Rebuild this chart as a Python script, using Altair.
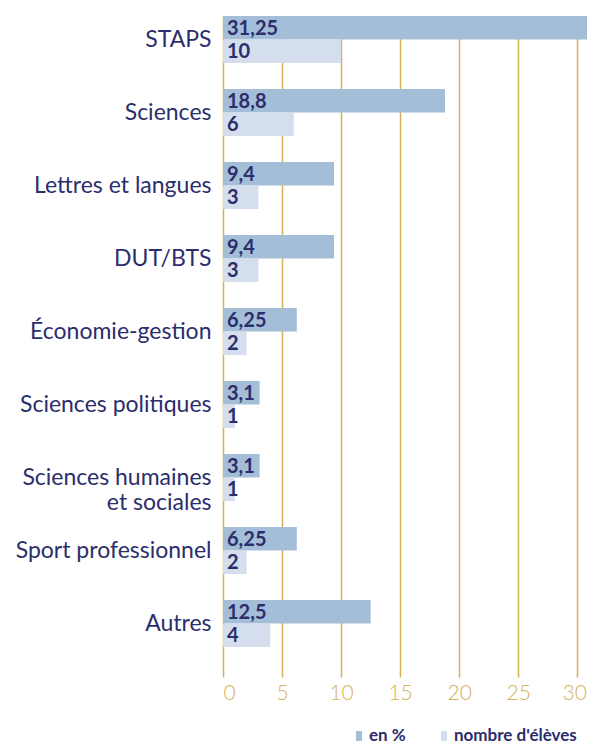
import altair as alt
import pandas as pd

categories = ["STAPS", "Sciences", "Lettres et langues", "DUT/BTS", "Économie-gestion",
              "Sciences politiques", "Sciences humaines et sociales", "Sport professionnel", "Autres"]
pct = [31.25, 18.8, 9.4, 9.4, 6.25, 3.1, 3.1, 6.25, 12.5]
counts = [10, 6, 3, 3, 2, 1, 1, 2, 4]
series = ["en %", "nombre d'élèves"]
x_ticks = [0, 5, 10, 15, 20, 25, 30]

NAVY = "#2b2e6c"
GOLD = "#d6b15a"
COLORS = ["#a4bed8", "#d4deed"]
FONT = "Lato"

def fmt(v):
    return f"{v:g}".replace(".", ",")

rows = []
for c, p, n in zip(categories, pct, counts):
    rows.append({"category": c, "series": series[0], "value": p, "label": fmt(p)})
    rows.append({"category": c, "series": series[1], "value": n, "label": fmt(n)})
df = pd.DataFrame(rows)

y_enc = alt.Y("category:N", sort=categories,
              scale=alt.Scale(paddingInner=0.356, paddingOuter=0.205, align=0),
              axis=alt.Axis(title=None, domain=False, ticks=False, labelPadding=12,
                            labelFontSize=23, labelColor=NAVY, labelFont=FONT, labelLimit=0,
                            labelExpr="datum.value == 'Sciences humaines et sociales' ? ['Sciences humaines', 'et sociales'] : datum.value",
                            labelLineHeight=25))
yoff = alt.YOffset("series:N", sort=series, scale=alt.Scale(paddingInner=0, paddingOuter=0))
x_scale = alt.Scale(domain=[0, 31.25], nice=False, zero=True)
x_axis = alt.Axis(title=None, values=x_ticks, domain=False, ticks=False, grid=True,
                  gridColor=GOLD, gridWidth=1.5, labelColor=GOLD, labelFontSize=21,
                  labelFont=FONT, labelPadding=5, labelFontWeight=300,
                  labelOffset={"condition": {"test": "datum.value == 30", "value": -3}, "value": 0})

bars = alt.Chart(df).mark_bar().encode(
    y=y_enc,
    yOffset=yoff,
    x=alt.X("value:Q", scale=x_scale, axis=x_axis),
    color=alt.Color("series:N", sort=series,
                    scale=alt.Scale(domain=series, range=COLORS),
                    legend=alt.Legend(title=None, orient="none", legendX=126, legendY=710,
                                      direction="horizontal",
                                      symbolType="M-0.3,-0.5H0.3V0.5H-0.3Z",
                                      symbolSize=400, symbolStrokeWidth=0, symbolOpacity=1,
                                      labelFont=FONT, labelFontSize=17, labelFontWeight="bold",
                                      labelColor=NAVY, labelOffset=0, columnPadding=28,
                                      labelLimit=0)),
)

texts = alt.Chart(df).mark_text(align="left", baseline="middle", dx=4, dy=1,
                                font=FONT, fontSize=20, fontWeight="bold", color=NAVY).encode(
    y=alt.Y("category:N", sort=categories),
    yOffset=alt.YOffset("series:N", sort=series),
    x=alt.datum(0),
    text="label:N",
)

chart = alt.layer(bars, texts).properties(
    width=369, height=661,
    autosize=alt.AutoSizeParams(type="none"),
    padding={"left": 215, "top": 8, "right": -5, "bottom": 69},
).configure_view(stroke=None)

chart.save("out.html", embed_options={"renderer": "svg", "actions": False})
